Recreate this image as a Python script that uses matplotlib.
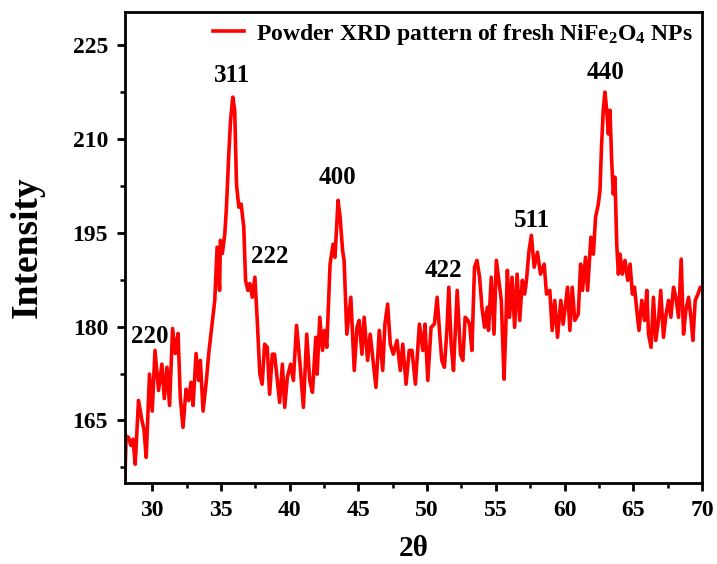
import matplotlib
matplotlib.use("Agg")
import matplotlib.pyplot as plt
from matplotlib.ticker import MultipleLocator

plt.rcParams["font.family"] = ["Liberation Serif", "DejaVu Serif"]
plt.rcParams["font.weight"] = "bold"
plt.rcParams["mathtext.fontset"] = "custom"
plt.rcParams["mathtext.rm"] = "Liberation Serif:bold"
plt.rcParams["mathtext.it"] = "Liberation Serif:bold"
plt.rcParams["mathtext.bf"] = "Liberation Serif:bold"

# traced XRD pattern (2theta, intensity)
two_theta = [
    28.0, 28.1, 28.27, 28.45, 28.6, 28.76, 29.0, 29.25, 29.4, 29.56, 29.8, 30.0,
    30.2, 30.46, 30.7, 30.88, 31.07, 31.26, 31.48, 31.68, 31.88, 32.04, 32.24,
    32.46, 32.65, 32.82, 32.97, 33.19, 33.38, 33.5, 33.7, 33.94, 34.11, 34.36,
    34.55, 34.72, 34.9, 34.96, 35.1, 35.28, 35.4, 35.57, 35.7, 35.86, 36.0,
    36.13, 36.3, 36.47, 36.66, 36.79, 36.96, 37.1, 37.28, 37.47, 37.64, 37.83,
    38.0, 38.18, 38.37, 38.54, 38.74, 38.9, 39.1, 39.27, 39.47, 39.64, 39.83,
    40.07, 40.27, 40.5, 40.73, 41.0, 41.24, 41.46, 41.66, 41.9, 42.0, 42.19,
    42.39, 42.55, 42.7, 42.94, 43.16, 43.3, 43.52, 43.67, 43.85, 43.96, 44.16,
    44.45, 44.7, 44.9, 45.06, 45.26, 45.42, 45.67, 45.86, 46.04, 46.28, 46.52,
    46.77, 46.93, 47.13, 47.32, 47.54, 47.81, 48.05, 48.23, 48.47, 48.7, 48.9,
    49.15, 49.44, 49.69, 49.85, 50.05, 50.29, 50.53, 50.73, 50.9, 51.07, 51.26,
    51.44, 51.58, 51.75, 51.92, 52.19, 52.43, 52.6, 52.77, 52.97, 53.09, 53.26,
    53.45, 53.63, 53.82, 53.99, 54.18, 54.38, 54.47, 54.67, 54.87, 55.04, 55.28,
    55.4, 55.6, 55.72, 55.84, 56.0, 56.18, 56.37, 56.55, 56.74, 56.93, 57.1,
    57.23, 57.42, 57.59, 57.79, 58.03, 58.25, 58.52, 58.69, 58.93, 59.1, 59.29,
    59.49, 59.73, 59.9, 60.07, 60.22, 60.39, 60.56, 60.75, 61.0, 61.17, 61.31,
    61.53, 61.68, 61.92, 62.1, 62.26, 62.46, 62.58, 62.7, 62.82, 62.94, 63.07,
    63.19, 63.31, 63.43, 63.55, 63.67, 63.8, 63.92, 64.04, 64.21, 64.4, 64.6,
    64.77, 64.94, 65.09, 65.26, 65.42, 65.62, 65.82, 65.99, 66.11, 66.3, 66.47,
    66.64, 66.84, 67.0, 67.2, 67.39, 67.57, 67.74, 67.93, 68.1, 68.3, 68.49,
    68.66, 68.83, 69.03, 69.22, 69.34, 69.51, 69.71, 69.88, 70.0,
]
intensity = [
    155.0, 162.5, 162.3, 161.0, 162.0, 158.0, 168.2, 165.0, 163.5, 159.1, 172.4, 166.5,
    176.2, 169.8, 174.0, 168.5, 173.5, 167.4, 179.7, 175.7, 178.9, 168.7, 163.9,
    170.0, 168.2, 171.1, 167.4, 175.7, 171.4, 174.6, 166.5, 171.4, 175.7, 180.5,
    184.2, 192.7, 185.8, 193.8, 191.7, 194.8, 199.1, 207.6, 213.0, 216.7, 214.6,
    202.8, 199.1, 199.6, 195.9, 187.4, 185.8, 186.9, 184.7, 187.9, 181.0, 172.4,
    170.8, 177.2, 176.7, 169.2, 175.6, 175.6, 171.4, 167.9, 174.0, 167.1, 171.9,
    174.0, 171.4, 180.2, 174.6, 167.1, 178.8, 171.4, 169.5, 178.3, 172.4, 181.5,
    176.2, 179.4, 176.7, 190.0, 193.2, 191.1, 200.2, 197.5, 192.2, 190.6, 178.8,
    184.7, 173.0, 179.9, 181.0, 175.6, 181.5, 174.6, 178.8, 175.1, 170.3, 179.4,
    173.0, 180.4, 183.6, 177.2, 175.6, 177.8, 173.0, 177.2, 170.8, 176.2, 176.2,
    170.8, 180.4, 176.2, 180.4, 171.4, 179.9, 180.4, 184.7, 179.4, 174.6, 173.5,
    179.4, 186.3, 177.2, 173.0, 185.8, 175.6, 174.6, 181.5, 181.0, 180.4, 176.2,
    189.5, 190.6, 187.9, 183.1, 179.9, 183.1, 179.4, 187.9, 178.8, 190.6, 186.3,
    184.2, 171.6, 179.4, 189.0, 181.5, 187.9, 179.9, 188.4, 181.0, 187.4, 185.2,
    187.4, 192.2, 194.6, 189.5, 191.9, 188.4, 190.0, 185.2, 185.8, 179.4, 184.2,
    178.3, 184.2, 180.4, 183.6, 186.3, 179.4, 186.3, 181.0, 182.0, 190.0, 185.8,
    191.1, 185.8, 194.3, 191.6, 197.5, 199.6, 201.8, 209.2, 214.6, 217.5, 214.6,
    210.8, 214.6, 206.6, 201.2, 203.9, 193.2, 188.4, 191.6, 188.4, 190.6, 187.4,
    190.0, 185.2, 186.3, 182.6, 179.4, 184.2, 181.0, 185.8, 178.8, 176.7, 184.7,
    177.8, 181.0, 185.8, 178.3, 182.0, 184.2, 181.5, 186.3, 184.7, 181.5, 190.8,
    178.8, 182.6, 184.7, 181.0, 177.8, 184.2, 185.2, 186.3, 186.3,
]

# hkl labels and where they sit
hkl_labels = ["220", "311", "222", "400", "422", "511", "440"]
hkl_x = [29.85, 35.84, 38.54, 43.5, 51.17, 57.66, 63.0]
hkl_y = [178.4, 220.2, 191.2, 203.9, 189.0, 197.0, 220.7]

fig = plt.figure(figsize=(7.17, 5.64), dpi=100)
ax = fig.add_axes([0.174, 0.1436, 0.805, 0.835])

ax.plot(two_theta, intensity, color="red", lw=2.6,
        label=r"Powder XRD pattern of fresh NiFe$_2$O$_4$ NPs")

for lab, x, y in zip(hkl_labels, hkl_x, hkl_y):
    ax.text(x, y, lab, ha="center", va="center", fontsize=18, fontweight="bold")

ax.set_xlim(28, 70)
ax.set_ylim(155, 230.3)
ax.xaxis.set_major_locator(MultipleLocator(5))
ax.xaxis.set_minor_locator(MultipleLocator(2.5))
ax.yaxis.set_major_locator(MultipleLocator(15))
ax.yaxis.set_minor_locator(MultipleLocator(7.5))
ax.tick_params(which="major", direction="out", length=6, width=2, labelsize=17, pad=6)
ax.tick_params(which="minor", direction="out", length=3.5, width=1.8)
ax.tick_params(top=False, right=False)
for sp in ax.spines.values():
    sp.set_linewidth(2)
for lbl in ax.get_xticklabels() + ax.get_yticklabels():
    lbl.set_fontweight("bold")

ax.set_xlabel("2θ", fontsize=21, fontweight="bold", labelpad=10)
ax.set_ylabel("Intensity", fontsize=27, fontweight="bold", labelpad=20)

ax.legend(loc="upper right", frameon=False, handlelength=1.3,
          handletextpad=0.5, borderaxespad=0.1, borderpad=0.3,
          prop={"weight": "bold", "size": 17})

fig.savefig("out.png", dpi=100)
